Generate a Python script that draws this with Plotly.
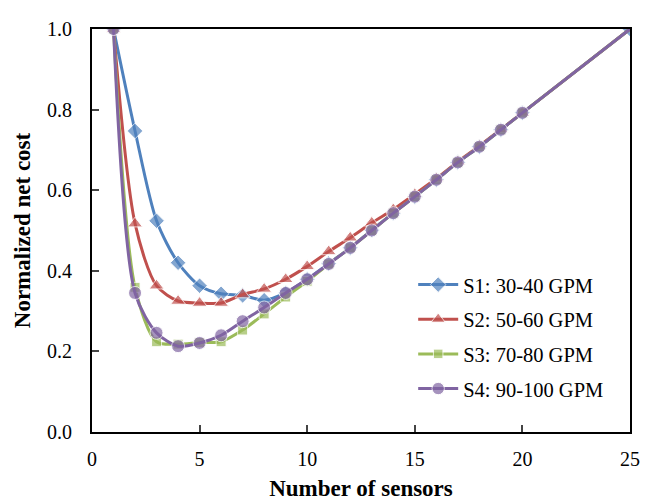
import plotly.graph_objects as go

x_s1 = [1, 2, 3, 4, 5, 6, 7, 8, 9, 10, 11, 12, 13, 14, 15, 16, 17, 18, 19, 20, 25]
s1 = [1.0, 0.747, 0.524, 0.420, 0.363, 0.343, 0.339, 0.327, 0.345, 0.379, 0.418, 0.457, 0.501, 0.543, 0.584, 0.626, 0.669, 0.708, 0.750, 0.792, 1.0]
s2 = [1.0, 0.517, 0.363, 0.325, 0.320, 0.320, 0.341, 0.355, 0.379, 0.411, 0.448, 0.482, 0.519, 0.552, 0.590, 0.629, 0.671, 0.710, 0.751, 0.792, 1.0]
s3 = [1.0, 0.359, 0.224, 0.218, 0.222, 0.224, 0.253, 0.293, 0.335, 0.374, 0.417, 0.457, 0.500, 0.543, 0.584, 0.626, 0.669, 0.708, 0.750, 0.792, 1.0]
s4 = [1.0, 0.345, 0.246, 0.213, 0.221, 0.240, 0.275, 0.309, 0.345, 0.379, 0.417, 0.457, 0.500, 0.543, 0.584, 0.626, 0.669, 0.708, 0.750, 0.792, 1.0]
names = ["S1: 30-40 GPM", "S2: 50-60 GPM", "S3: 70-80 GPM", "S4: 90-100 GPM"]
x_ticks = [0, 5, 10, 15, 20, 25]
y_ticks = [0.0, 0.2, 0.4, 0.6, 0.8, 1.0]

colors = ["#4F81BD", "#C0504D", "#9BBB59", "#8064A2"]
symbols = ["diamond", "triangle-up", "square", "circle"]
msizes = [12, 13, 10, 13]

fig = go.Figure()
for i, ys in enumerate([s1, s2, s3, s4]):
    sizes = [msizes[i]] * len(ys)
    if i > 0:
        sizes[-1] = 0
    fig.add_trace(go.Scatter(
        x=x_s1, y=ys, name=names[i], mode="lines+markers", legendgroup=f"g{i}",
        line=dict(color=colors[i], width=3, shape="spline", smoothing=0.8),
        marker=dict(symbol=symbols[i], size=sizes, color=colors[i]),
    ))

font_family = "Liberation Serif, Times New Roman, serif"
fig.update_layout(
    width=650, height=502,
    margin=dict(l=84, r=28, t=10, b=78),
    paper_bgcolor="white", plot_bgcolor="white",
    font=dict(family=font_family, size=20, color="black"),
    showlegend=True,
    legend=dict(x=0.597, y=0.415, xanchor="left", yanchor="top",
                bgcolor="rgba(0,0,0,0)", font=dict(size=20.5, family=font_family),
                tracegroupgap=5, itemwidth=40),
    xaxis=dict(range=[0, 25], tickvals=x_ticks, ticks="inside", ticklen=7,
               tickwidth=1.5, linecolor="black", linewidth=2, mirror=True,
               showgrid=False, zeroline=False, ticklabelstandoff=8,
               title=dict(text="<b>Number of sensors</b>", font=dict(size=23), standoff=11)),
    yaxis=dict(range=[0, 1], tickvals=y_ticks, tickformat=".1f", ticks="inside",
               ticklen=7, tickwidth=1.5, linecolor="black", linewidth=2, mirror=True,
               showgrid=False, zeroline=False, ticklabelstandoff=14,
               title=dict(text="<b>Normalized net cost</b>", font=dict(size=23), standoff=10)),
)
fig.write_html("out.html")
